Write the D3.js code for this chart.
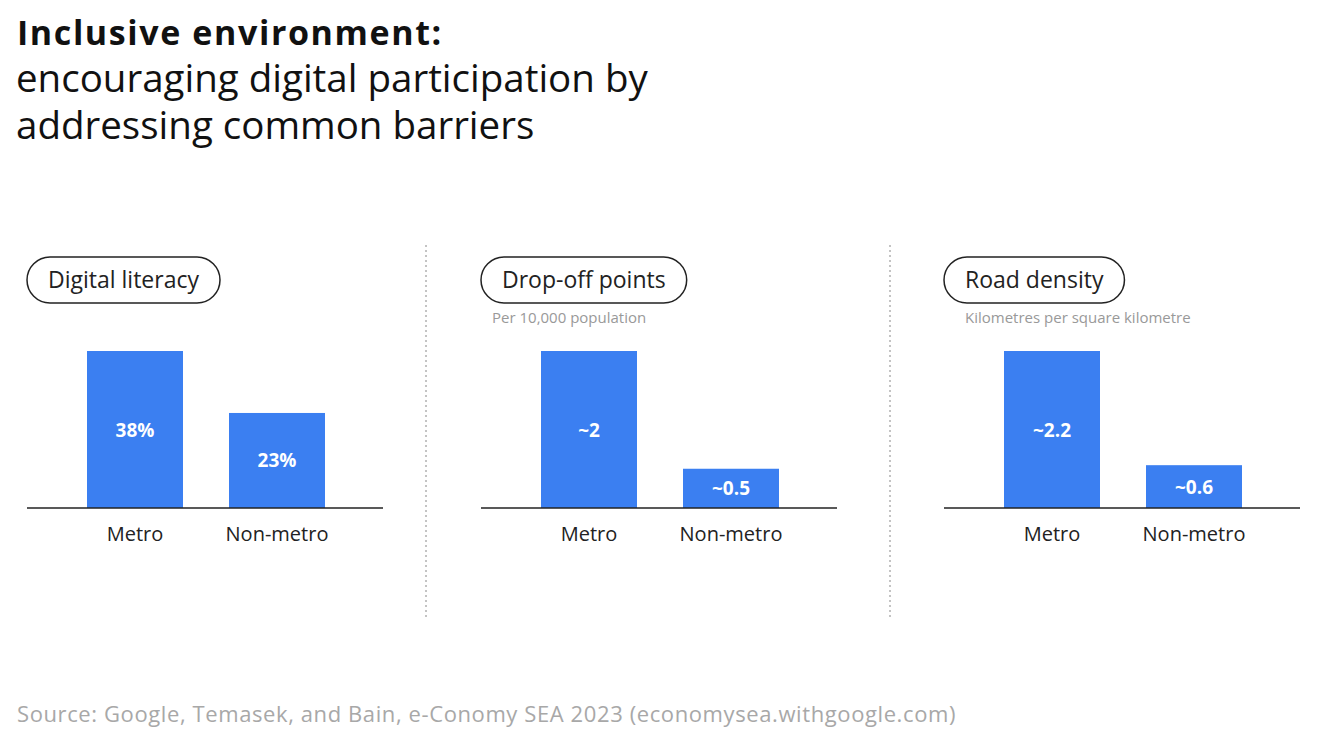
<!DOCTYPE html>
<html>
<head>
<meta charset="utf-8">
<script src="https://cdn.jsdelivr.net/npm/d3@7"></script>
<style>
  body { margin: 0; background: #fff; }
  svg text { font-family: "Open Sans", Roboto, sans-serif; }
</style>
</head>
<body>
<div id="app"></div>
<script>
// data
const panelTitles = ['Digital literacy', 'Drop-off points', 'Road density']
const panelUnits = ['', 'Per 10,000 population', 'Kilometres per square kilometre']
const categories = ['Metro', 'Non-metro']
const metroValues = [38, 2, 2.2]
const nonMetroValues = [23, 0.5, 0.6]
const valueLabels = [['38%', '23%'], ['~2', '~0.5'], ['~2.2', '~0.6']]

const width = 1320, height = 752
const svg = d3.select('#app').append('svg')
    .attr('width', width)
    .attr('height', height)

// heading
svg.append('text')
    .attr('x', 17).attr('y', 45)
    .style('font-size', '34px').style('font-weight', 700).style('fill', '#111')
    .style('letter-spacing', '1.6px')
    .text('Inclusive environment:')
const sub = ['encouraging digital participation by', 'addressing common barriers']
svg.selectAll('.sub').data(sub).enter().append('text')
    .attr('x', 16).attr('y', (d, i) => 92 + i * 47)
    .style('font-size', '38.5px').style('fill', '#111')
    .text(d => d)

const panelX = [27, 481, 944]
const panelW = 356
const baseY = 508
const topY = 351

// dotted dividers
const dividers = [426, 890]
svg.selectAll('.divider').data(dividers).enter().append('line')
    .attr('x1', d => d).attr('x2', d => d)
    .attr('y1', 245).attr('y2', 618)
    .attr('stroke', '#888').attr('stroke-width', 1)
    .attr('stroke-dasharray', '2,3')

panelTitles.forEach((title, p) => {
    const x0 = panelX[p]
    const g = svg.append('g')
    const vals = [metroValues[p], nonMetroValues[p]]

    // pill label
    const pill = g.append('g')
    const t = pill.append('text')
        .attr('x', x0 + 21).attr('y', 288)
        .style('font-size', '23px').style('fill', '#222')
        .text(title)
    const tw = t.node().getComputedTextLength()
    pill.insert('rect', 'text')
        .attr('x', x0).attr('y', 257)
        .attr('width', tw + 42).attr('height', 46)
        .attr('rx', 23)
        .attr('fill', '#fff').attr('stroke', '#222').attr('stroke-width', 1.5)

    if (panelUnits[p]) {
        g.append('text')
            .attr('x', x0 + 11 + (p === 2 ? 10 : 0)).attr('y', 323)
            .style('font-size', '15px').style('fill', '#999')
            .text(panelUnits[p])
    }

    const x = d3.scaleBand()
        .domain(categories)
        .range([x0 + 60, x0 + 298])
        .paddingInner(0.324)
        .paddingOuter(0)
    const y = d3.scaleLinear()
        .domain([0, d3.max(vals)])
        .range([baseY, topY])

    g.selectAll('.bar').data(categories).enter().append('rect')
        .attr('x', d => x(d))
        .attr('y', (d, i) => y(vals[i]))
        .attr('width', x.bandwidth())
        .attr('height', (d, i) => baseY - y(vals[i]))
        .attr('fill', '#3b7ff1')

    g.selectAll('.val').data(categories).enter().append('text')
        .attr('x', d => x(d) + x.bandwidth() / 2)
        .attr('y', (d, i) => (y(vals[i]) + baseY) / 2 + 7)
        .attr('text-anchor', 'middle')
        .style('font-size', '19px').style('font-weight', 700).style('fill', '#fff')
        .text((d, i) => valueLabels[p][i])

    // baseline + category labels via axis
    const axis = g.append('g')
        .attr('transform', 'translate(0,' + baseY + ')')
        .call(d3.axisBottom(x).tickSize(0).tickPadding(19))
    axis.select('.domain').remove()
    axis.append('line')
        .attr('x1', x0).attr('x2', x0 + panelW)
        .attr('stroke', '#222').attr('stroke-width', 1.5)
    axis.selectAll('.tick text')
        .style('font-size', '20px').style('fill', '#222')
        .style('font-family', '"Open Sans", sans-serif')
})

svg.append('text')
    .attr('x', 17).attr('y', 722)
    .style('font-size', '22px').style('fill', '#a8a8a8')
    .style('letter-spacing', '0.6px')
    .text('Source: Google, Temasek, and Bain, e-Conomy SEA 2023 (economysea.withgoogle.com)')
</script>
</body>
</html>
